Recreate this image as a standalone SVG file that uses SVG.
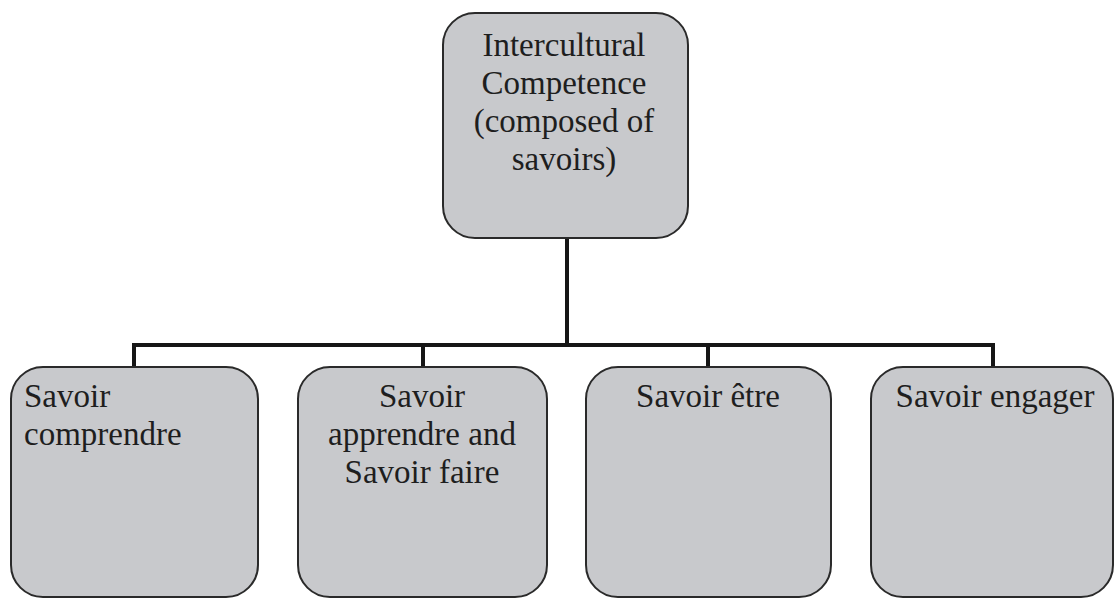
<svg xmlns="http://www.w3.org/2000/svg" width="1117" height="600" viewBox="0 0 1117 600">
<style>
.box{fill:#c8c9cc;stroke:#2a2a2a;stroke-width:2}
.t{font-family:"Liberation Serif","Times New Roman",serif;font-size:33px;fill:#1e1e1e}
.c{text-anchor:middle}
.conn{fill:none;stroke:#161616;stroke-width:4}
</style>
<rect width="1117" height="600" fill="#ffffff"/>
<g id="connectors">
<path class="conn" d="M567 238 V345"/>
<path class="conn" d="M134 367 V345 H993 V367"/>
<path class="conn" d="M423 345 V367"/>
<path class="conn" d="M708 345 V367"/>
</g>
<g id="n-top">
<rect class="box" x="443" y="13" width="245" height="225" rx="32"/>
<text class="t c"><tspan x="564" y="56">Intercultural</tspan><tspan x="564" y="94">Competence</tspan><tspan x="564" y="132">(composed of</tspan><tspan x="564" y="170">savoirs)</tspan></text>
</g>
<g id="n-comprendre">
<rect class="box" x="11" y="367" width="247" height="230" rx="32"/>
<text class="t"><tspan x="24" y="407">Savoir</tspan><tspan x="24" y="445">comprendre</tspan></text>
</g>
<g id="n-apprendre">
<rect class="box" x="298" y="367" width="249" height="230" rx="32"/>
<text class="t c"><tspan x="422" y="407">Savoir</tspan><tspan x="422" y="445">apprendre and</tspan><tspan x="422" y="483">Savoir faire</tspan></text>
</g>
<g id="n-etre">
<rect class="box" x="586" y="367" width="245" height="230" rx="32"/>
<text class="t c" x="708" y="407">Savoir être</text>
</g>
<g id="n-engager">
<rect class="box" x="871" y="367" width="242" height="230" rx="32"/>
<text class="t c" x="995" y="407">Savoir engager</text>
</g>
</svg>
